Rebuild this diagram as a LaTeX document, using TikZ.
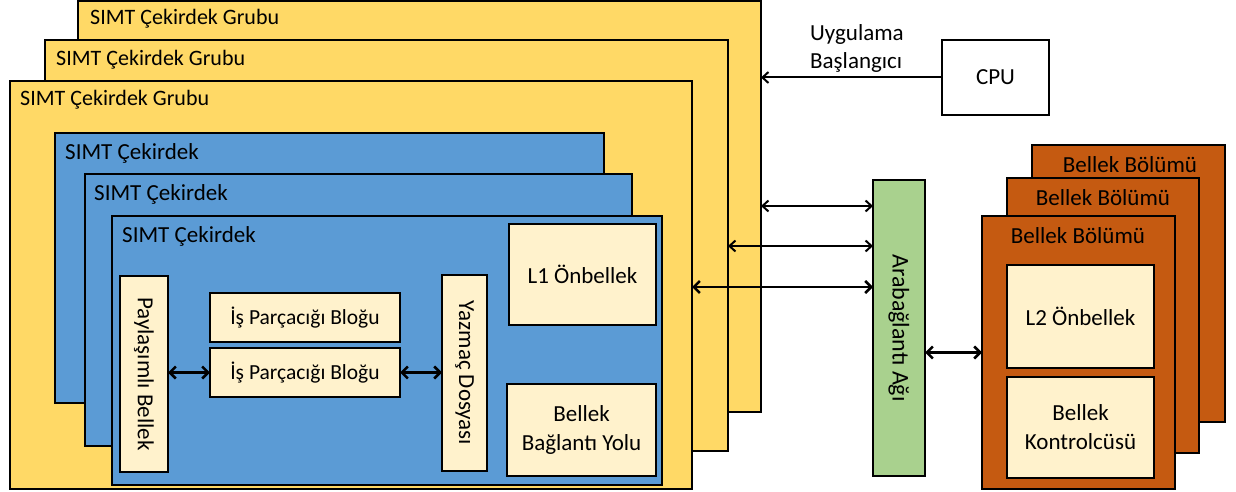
\documentclass[tikz,border=0pt]{standalone}
\usepackage{fontspec}
\setmainfont{Carlito}
\usetikzlibrary{arrows.meta,calc}
\definecolor{ygold}{HTML}{FFD966}
\definecolor{bblue}{HTML}{5B9BD5}
\definecolor{ggreen}{HTML}{A9D18E}
\definecolor{oorange}{HTML}{C55A11}
\definecolor{ccream}{HTML}{FFF2CC}
\tikzset{
  box/.style={draw, line width=2.8pt, anchor=north west, inner sep=0pt, outer sep=0pt},
  ybox/.style={box, fill=ygold},
  bbox/.style={box, fill=bblue},
  obox/.style={box, fill=oorange},
  cbox/.style={box, fill=ccream, align=center, font=\fontsize{23}{29}\selectfont},
  glbl/.style={anchor=west, inner sep=0pt, font=\fontsize{22}{26}\selectfont},
  lbl/.style={anchor=west, inner sep=0pt, font=\fontsize{23}{27}\selectfont},
  olbl/.style={anchor=center, inner sep=0pt, font=\fontsize{23}{27}\selectfont},
  vtxt/.style={rotate=-90, inner sep=0pt, font=\fontsize{23}{27}\selectfont},
  arr/.style={line width=2pt, -{Straight Barb[length=6pt,width=11pt,line width=2pt]}},
  dbl/.style={line width=2pt, {Straight Barb[length=6pt,width=11pt,line width=2pt]}-{Straight Barb[length=6pt,width=11pt,line width=2pt]}},
  dblk/.style={line width=2.8pt, {Straight Barb[length=6pt,width=12pt,line width=2.5pt]}-{Straight Barb[length=6pt,width=12pt,line width=2.5pt]}},
}
\begin{document}
\begin{tikzpicture}[x=1pt,y=-1pt]
\useasboundingbox (0,0) rectangle (1236,492);
% yellow groups
\node[ybox, minimum width=683, minimum height=411] (y3) at (78,1) {};
\node[glbl] (y3l) at (90,19) {SIMT Çekirdek Grubu};
\node[ybox, minimum width=683, minimum height=411] (y2) at (45,40) {};
\node[glbl] (y2l) at (56,60) {SIMT Çekirdek Grubu};
\node[ybox, minimum width=682, minimum height=408] (y1) at (10,81) {};
\node[glbl] (y1l) at (20,100) {SIMT Çekirdek Grubu};
% blue cores
\node[bbox, minimum width=549, minimum height=270] (b3) at (55,133) {};
\node[lbl] (b3l) at (65,153) {SIMT Çekirdek};
\node[bbox, minimum width=547, minimum height=272] (b2) at (85,174) {};
\node[lbl] (b2l) at (94,194) {SIMT Çekirdek};
\node[bbox, minimum width=550, minimum height=269] (b1) at (112,216) {};
\node[lbl] (b1l) at (122,236) {SIMT Çekirdek};
% inner boxes
\node[cbox, minimum width=147, minimum height=101] (l1) at (509,224) {L1 Önbellek};
\node[cbox, minimum width=149, minimum height=92] (mb) at (507,384) {Bellek\\Bağlantı Yolu};
\node[cbox, font=\fontsize{21.5}{27}\selectfont, minimum width=190, minimum height=49] (is1) at (210,293) {İş Parçacığı Bloğu};
\node[cbox, font=\fontsize{21.5}{27}\selectfont, minimum width=190, minimum height=49] (is2) at (210,348) {İş Parçacığı Bloğu};
\node[box, fill=ccream, minimum width=48, minimum height=196] (pay) at (120,276) {};
\node[vtxt] (payt) at (pay.center) {Paylaşımlı Bellek};
\node[box, fill=ccream, minimum width=45, minimum height=196] (yaz) at (442,275) {};
\node[vtxt] (yazt) at (yaz.center) {Yazmaç Dosyası};
\draw[dblk] (pay.east |- is2.west) -- (is2.west);
\draw[dblk] (is2.east) -- (yaz.west |- is2.east);
% CPU
\node[box, fill=white, minimum width=107, minimum height=75, font=\fontsize{23}{27}\selectfont] (cpu) at (942,40) {CPU};
\node[inner sep=0pt, anchor=north west, align=left, font=\fontsize{23}{28}\selectfont] (app) at (810,24) {Uygulama\\Başlangıcı};
\draw[arr] (cpu.west) -- (cpu.west -| y3.east);
% interconnect
\node[box, fill=ggreen, minimum width=52, minimum height=296] (net) at (873,180) {};
\node[vtxt, font=\fontsize{24}{28}\selectfont] (nett) at (net.center) {Arabağlantı Ağı};
\draw[dbl] (y3.east |- {(0,206)}) -- (net.west |- {(0,206)});
\draw[dbl] (y2.east |- {(0,246)}) -- (net.west |- {(0,246)});
\draw[dblk] (y1.east |- {(0,287)}) -- (net.west |- {(0,287)});
% memory partitions
\node[obox, minimum width=193, minimum height=277] (o3) at (1032,145) {};
\node[olbl] (o3l) at (1130,165) {Bellek Bölümü};
\node[obox, minimum width=192, minimum height=275] (o2) at (1007,178) {};
\node[olbl] (o2l) at (1103,198) {Bellek Bölümü};
\node[obox, minimum width=193, minimum height=273] (o1) at (982,216) {};
\node[olbl] (o1l) at (1078,236) {Bellek Bölümü};
\node[cbox, minimum width=147, minimum height=103] (l2) at (1007,265) {L2 Önbellek};
\node[cbox, minimum width=147, minimum height=101] (mc) at (1007,377) {Bellek\\Kontrolcüsü};
\draw[dblk] (net.east |- o1.west) -- (o1.west);
\end{tikzpicture}
\end{document}
